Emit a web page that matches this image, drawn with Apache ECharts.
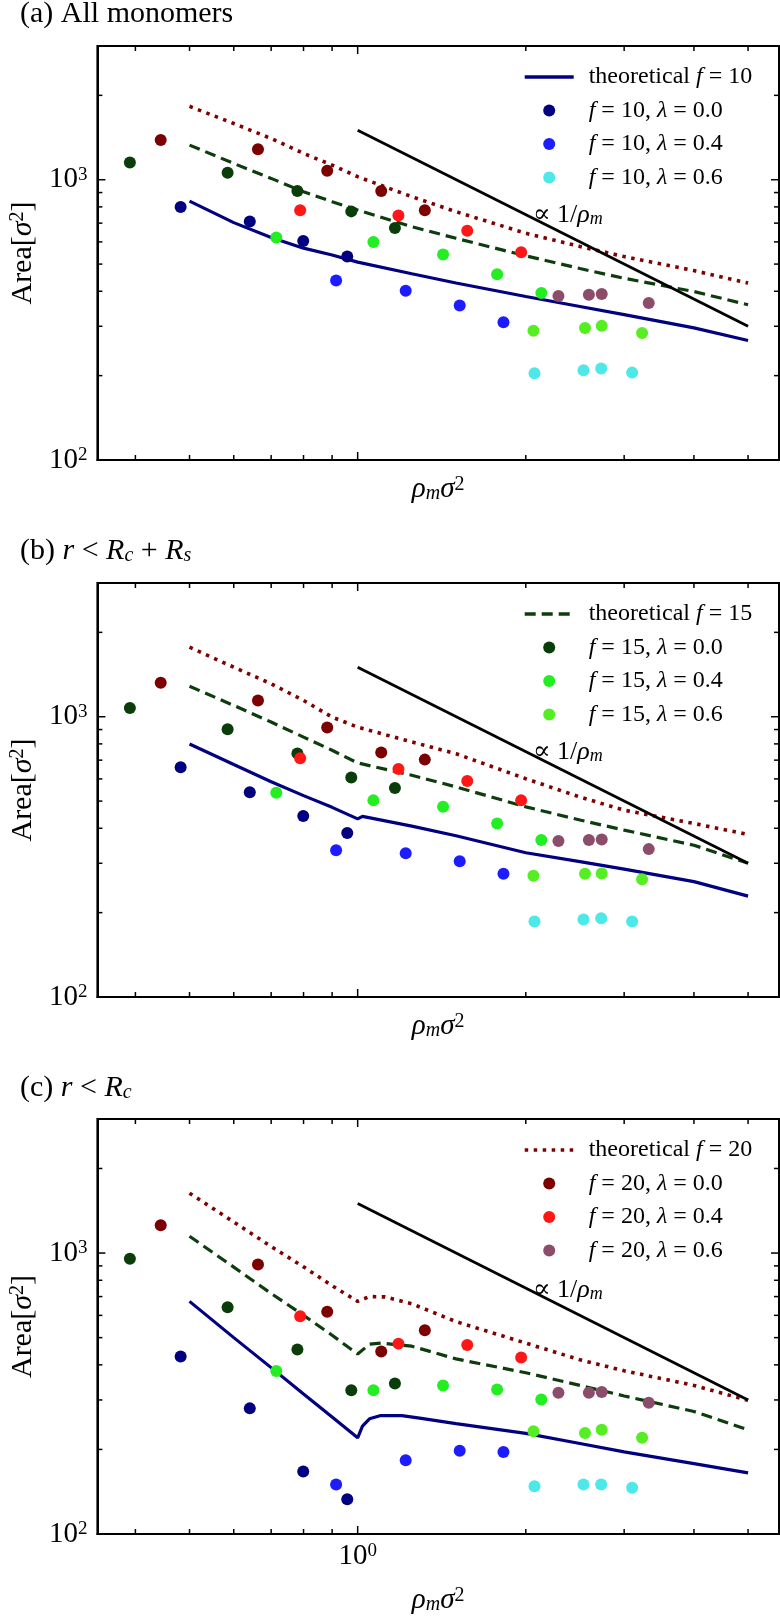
<!DOCTYPE html>
<html>
<head>
<meta charset="utf-8">
<script src="https://cdn.jsdelivr.net/npm/echarts@6/dist/echarts.min.js"></script>
<style>
  html, body { margin: 0; padding: 0; background: #fff; }
  #chart { width: 780px; height: 1617px; }
</style>
</head>
<body>
<div id="chart"></div>
<script>
// axis ranges and tick values (log axes)
const X_MIN = 0.342, X_MAX = 5.68;
const Y_MIN = 100, Y_MAX = 3000;
const X_MAJOR = [1];
const X_MINOR = [0.4, 0.5, 0.6, 0.7, 0.8, 0.9, 2, 3, 4, 5];
const Y_MAJOR = [100, 1000];
const Y_MINOR = [200, 300, 400, 500, 600, 700, 800, 900, 2000];

// densities of the simulation points (same in every panel)
const xF10L00 = [0.482, 0.641, 0.799, 0.958];
const xF15L00 = [0.391, 0.585, 0.780, 0.974, 1.166];
const xF20L00 = [0.444, 0.663, 0.882, 1.102, 1.319];
const xF10L04 = [0.915, 1.219, 1.523, 1.824];
const xF15L04 = [0.715, 1.067, 1.422, 1.777, 2.132];
const xF20L04 = [0.789, 1.183, 1.571, 1.962];
const xF10L06 = [2.073, 2.537, 2.729, 3.10];
const xF15L06 = [2.064, 2.553, 2.735, 3.23];
const xF20L06 = [2.288, 2.594, 2.735, 3.32];

// (a) all monomers
const aF10L00 = [800, 709, 605, 532];
const aF15L00 = [1153, 1060, 911, 771, 673];
const aF20L00 = [1387, 1285, 1076, 911, 778];
const aF10L04 = [437, 402, 356, 310];
const aF15L04 = [622, 600, 541, 460, 394];
const aF20L04 = [778, 745, 658, 551];
const aF10L06 = [204, 209, 212, 205];
const aF15L06 = [289, 296, 301, 284];
const aF20L06 = [385, 389, 391, 363];

// (b) r < Rc + Rs
const bF10L00 = [660, 538, 442, 385];
const bF15L00 = [1074, 902, 740, 607, 557];
const bF20L00 = [1321, 1143, 916, 745, 703];
const bF10L04 = [334, 326, 305, 275];
const bF15L04 = [535, 503, 477, 416, 363];
const bF20L04 = [711, 651, 590, 503];
const bF10L06 = [186, 189, 191, 186];
const bF15L06 = [271, 275, 276, 263];
const bF20L06 = [360, 363, 365, 337];

// (c) r < Rc
const cF10L00 = [428, 280, 167, 133];
const cF15L00 = [954, 641, 454, 325, 343];
const cF20L00 = [1256, 910, 618, 446, 531];
const cF10L04 = [150, 183, 198, 196];
const cF15L04 = [380, 325, 338, 327, 301];
const cF20L04 = [596, 476, 471, 425];
const cF10L06 = [148, 150, 150, 146];
const cF15L06 = [232, 229, 235, 220];
const cF20L06 = [318, 318, 320, 293];

// theoretical curves
const xThA = [0.5, 0.6, 0.7, 0.8, 0.9, 1.0, 1.25, 1.5, 2, 2.5, 3, 4, 5];
const aTh10 = [839, 703, 622, 570, 539, 508, 462, 428, 383, 353, 330, 296, 267];
const aTh15 = [1329, 1143, 1011, 906, 835, 780, 680, 618, 535, 482, 445, 399, 358];
const aTh20 = [1828, 1587, 1403, 1241, 1128, 1025, 870, 769, 644, 578, 532, 474, 428];

const xThB10 = [0.5, 0.6, 0.7, 0.8, 0.9, 1.0, 1.02, 1.25, 1.5, 2, 2.5, 3, 4, 5];
const bTh10 = [799, 675, 586, 523, 475, 432, 441, 407, 376, 327, 304, 286, 258, 229];
const xThB = [0.5, 0.6, 0.7, 0.8, 0.9, 1.0, 1.25, 1.5, 2, 2.5, 3, 4, 5];
const bTh15 = [1285, 1097, 957, 846, 759, 684, 618, 562, 477, 428, 394, 348, 300];
const bTh20 = [1770, 1502, 1311, 1143, 997, 918, 813, 738, 601, 517, 464, 416, 380];

const xThC10 = [0.5, 0.6, 0.7, 0.8, 0.9, 1.0, 1.02, 1.05, 1.1, 1.2, 1.3, 1.5, 2, 2.5, 3, 4, 5];
const cTh10 = [673, 500, 391, 315, 261, 220, 242, 257, 264, 264, 258, 247, 228, 210, 196, 178, 165];
const xThC15 = [0.5, 0.6, 0.7, 0.8, 0.9, 1.0, 1.05, 1.1, 1.25, 1.5, 2, 2.5, 3, 4, 5];
const cTh15 = [1148, 891, 718, 600, 510, 437, 474, 478, 466, 420, 375, 338, 310, 273, 235];
const xThC20 = [0.5, 0.6, 0.7, 0.8, 0.9, 1.0, 1.05, 1.12, 1.25, 1.5, 2, 2.5, 3, 4, 5];
const cTh20 = [1634, 1290, 1055, 893, 765, 673, 700, 698, 660, 570, 478, 417, 381, 338, 299];

// ∝ 1/ρ reference line
const xRef = [1, 5];
const yRef = [1500, 300];

const SERIF = "'Liberation Serif', 'DejaVu Serif', serif";
const COL = {
  T10: '#000080', T15: '#0d3d0d', T20: '#800000',
  F10L00: '#000080', F10L04: '#1c1cff', F10L06: '#4de8e8',
  F15L00: '#0b3d0b', F15L04: '#22ee22', F15L06: '#55ee22',
  F20L00: '#7d0000', F20L04: '#ff1616', F20L06: '#8b4d6a'
};
const LEG = {
  T10: 'theoretical {i|f} = 10', T15: 'theoretical {i|f} = 15', T20: 'theoretical {i|f} = 20',
  F10L00: '{i|f} = 10, {i|λ} = 0.0', F10L04: '{i|f} = 10, {i|λ} = 0.4', F10L06: '{i|f} = 10, {i|λ} = 0.6',
  F15L00: '{i|f} = 15, {i|λ} = 0.0', F15L04: '{i|f} = 15, {i|λ} = 0.4', F15L06: '{i|f} = 15, {i|λ} = 0.6',
  F20L00: '{i|f} = 20, {i|λ} = 0.0', F20L04: '{i|f} = 20, {i|λ} = 0.4', F20L06: '{i|f} = 20, {i|λ} = 0.6'
};

const zip = (xs, ys) => xs.map((x, i) => [x, ys[i]]);

const panels = [
  {
    top: 46, height: 414, title: '(a) All monomers', titleY: 14, noteY: 215,
    legend: ['T10', 'F10L00', 'F10L04', 'F10L06'],
    th: [[xThA, aTh10], [xThA, aTh15], [xThA, aTh20]],
    pts: [aF10L00, aF15L00, aF20L00, aF10L04, aF15L04, aF20L04, aF10L06, aF15L06, aF20L06]
  },
  {
    top: 583, height: 414, title: '(b) {i|r} < {i|R}{sub|c} + {i|R}{sub|s}', titleY: 551, noteY: 752,
    legend: ['T15', 'F15L00', 'F15L04', 'F15L06'],
    th: [[xThB10, bTh10], [xThB, bTh15], [xThB, bTh20]],
    pts: [bF10L00, bF15L00, bF20L00, bF10L04, bF15L04, bF20L04, bF10L06, bF15L06, bF20L06]
  },
  {
    top: 1119, height: 415, title: '(c) {i|r} < {i|R}{sub|c}', titleY: 1088, noteY: 1290,
    legend: ['T20', 'F20L00', 'F20L04', 'F20L06'],
    th: [[xThC10, cTh10], [xThC15, cTh15], [xThC20, cTh20]],
    pts: [cF10L00, cF15L00, cF20L00, cF10L04, cF15L04, cF20L04, cF10L06, cF15L06, cF20L06]
  }
];
const PT_NAMES = ['F10L00', 'F15L00', 'F20L00', 'F10L04', 'F15L04', 'F20L04', 'F10L06', 'F15L06', 'F20L06'];
const PT_X = [xF10L00, xF15L00, xF20L00, xF10L04, xF15L04, xF20L04, xF10L06, xF15L06, xF20L06];
const TH_NAMES = ['T10', 'T15', 'T20'];
const TH_STYLE = [
  { color: COL.T10, width: 3.2, type: 'solid' },
  { color: COL.T15, width: 3.2, type: [11, 6] },
  { color: COL.T20, width: 3.6, type: [3.5, 5.5] }
];

// rich text styles for math-like labels at a given base size
function mathRich(size) {
  const small = Math.round(size * 0.68);
  return {
    i: { fontFamily: SERIF, fontStyle: 'italic', fontSize: size, color: '#000' },
    sub: { fontFamily: SERIF, fontStyle: 'italic', fontSize: small, verticalAlign: 'bottom', color: '#000' },
    sup: { fontFamily: SERIF, fontSize: small, verticalAlign: 'top', color: '#000' }
  };
}
const powLabel = v => '10{s|' + Math.round(Math.log10(v)) + '}';
const labelRich = { s: { fontFamily: SERIF, fontSize: 19, verticalAlign: 'top', color: '#000' } };

// tick marks drawn inward on all four sides
function tickData() {
  const d = [];
  X_MAJOR.forEach(v => d.push([v, Y_MIN, 0, 1]));
  X_MINOR.forEach(v => d.push([v, Y_MIN, 0, 0]));
  Y_MAJOR.forEach(v => d.push([X_MIN, v, 1, 1]));
  Y_MINOR.forEach(v => d.push([X_MIN, v, 1, 0]));
  return d;
}
function renderTick(params, api) {
  const p = api.coord([api.value(0), api.value(1)]);
  const cs = params.coordSys;
  const len = api.value(3) ? 8 : 5;
  const st = { stroke: '#000', lineWidth: 1.5 };
  if (api.value(2) === 0) {
    const b = cs.y + cs.height;
    return { type: 'group', children: [
      { type: 'line', shape: { x1: p[0], y1: b, x2: p[0], y2: b - len }, style: st },
      { type: 'line', shape: { x1: p[0], y1: cs.y, x2: p[0], y2: cs.y + len }, style: st }
    ] };
  }
  const r = cs.x + cs.width;
  return { type: 'group', children: [
    { type: 'line', shape: { x1: cs.x, y1: p[1], x2: cs.x + len, y2: p[1] }, style: st },
    { type: 'line', shape: { x1: r, y1: p[1], x2: r - len, y2: p[1] }, style: st }
  ] };
}

const grid = [], xAxis = [], yAxis = [], series = [], legend = [], graphic = [];

panels.forEach((p, g) => {
  grid.push({
    left: 93, width: 686, top: p.top, height: p.height,
    containLabel: false, show: true, borderColor: '#000', borderWidth: 2, backgroundColor: '#fff'
  });
  xAxis.push({
    type: 'log', logBase: 10, gridIndex: g, min: X_MIN, max: X_MAX,
    axisLine: { show: true, lineStyle: { color: '#000', width: 2 } },
    axisTick: { show: false }, splitLine: { show: false },
    axisLabel: {
      show: g === 2, margin: 8, formatter: powLabel, showMinLabel: false, showMaxLabel: false,
      fontFamily: SERIF, fontSize: 29, color: '#000', rich: labelRich
    },
    name: '{i|ρ}{sub|m}{i|σ}{sup|2}', nameLocation: 'middle', nameGap: g === 2 ? 52 : 15,
    nameTextStyle: { fontFamily: SERIF, fontSize: 29, color: '#000', rich: mathRich(29) }
  });
  yAxis.push({
    type: 'log', logBase: 10, gridIndex: g, min: Y_MIN, max: Y_MAX,
    axisLine: { show: true, lineStyle: { color: '#000', width: 2 } },
    axisTick: { show: false }, splitLine: { show: false },
    axisLabel: {
      margin: 10, formatter: powLabel, showMaxLabel: false,
      fontFamily: SERIF, fontSize: 29, color: '#000', rich: labelRich
    },
    name: 'Area[{i|σ}{sup|2}]', nameLocation: 'middle', nameGap: 58, nameRotate: 90,
    nameTextStyle: { fontFamily: SERIF, fontSize: 30, color: '#000', rich: mathRich(30) }
  });

  // theoretical curves
  p.th.forEach((c, k) => {
    series.push({
      type: 'line', name: TH_NAMES[k], xAxisIndex: g, yAxisIndex: g,
      data: zip(c[0], c[1]), symbol: 'none', showSymbol: false,
      lineStyle: TH_STYLE[k], itemStyle: { color: TH_STYLE[k].color }, z: 3
    });
  });
  series.push({
    type: 'line', name: 'ref', xAxisIndex: g, yAxisIndex: g,
    data: zip(xRef, yRef), symbol: 'none', showSymbol: false,
    lineStyle: { color: '#000', width: 2.8 }, z: 3
  });
  // simulation points
  p.pts.forEach((ys, k) => {
    series.push({
      type: 'scatter', name: PT_NAMES[k], xAxisIndex: g, yAxisIndex: g,
      data: zip(PT_X[k], ys), symbolSize: 12, itemStyle: { color: COL[PT_NAMES[k]], opacity: 1 }, z: 4
    });
  });
  series.push({
    type: 'custom', name: 'ticks', xAxisIndex: g, yAxisIndex: g, silent: true,
    data: tickData(), encode: { x: 0, y: 1 }, renderItem: renderTick, z: 5
  });

  legend.push({
    orient: 'vertical', left: 523, top: p.top + 19, padding: 0,
    itemWidth: 49, itemHeight: 12, itemGap: 9.5, selectedMode: false,
    // line entries: hide the marker dot, keep the line
    data: p.legend.map(n => n.charAt(0) === 'T' ? { name: n, itemStyle: { opacity: 0 } } : n),
    lineStyle: { width: 3.4 },
    formatter: n => LEG[n],
    textStyle: {
      fontFamily: SERIF, fontSize: 24, color: '#000', lineHeight: 24, padding: [0, 0, 0, 10],
      rich: { i: { fontFamily: SERIF, fontStyle: 'italic', fontSize: 24, color: '#000' } }
    }
  });

  graphic.push({
    type: 'text', x: 20, y: p.titleY, z: 10,
    style: { text: p.title, fontFamily: SERIF, fontSize: 30, fill: '#000', verticalAlign: 'middle', rich: mathRich(30) }
  });
  graphic.push({
    type: 'text', x: 533, y: p.noteY, z: 10,
    style: { text: '∝ 1/{i|ρ}{sub|m}', fontFamily: SERIF, fontSize: 26, fill: '#000', verticalAlign: 'middle', rich: mathRich(26) }
  });
});

const chart = echarts.init(document.getElementById('chart'));
chart.setOption({
  animation: false,
  backgroundColor: '#fff',
  grid, xAxis, yAxis, series, legend, graphic
});
</script>
</body>
</html>
